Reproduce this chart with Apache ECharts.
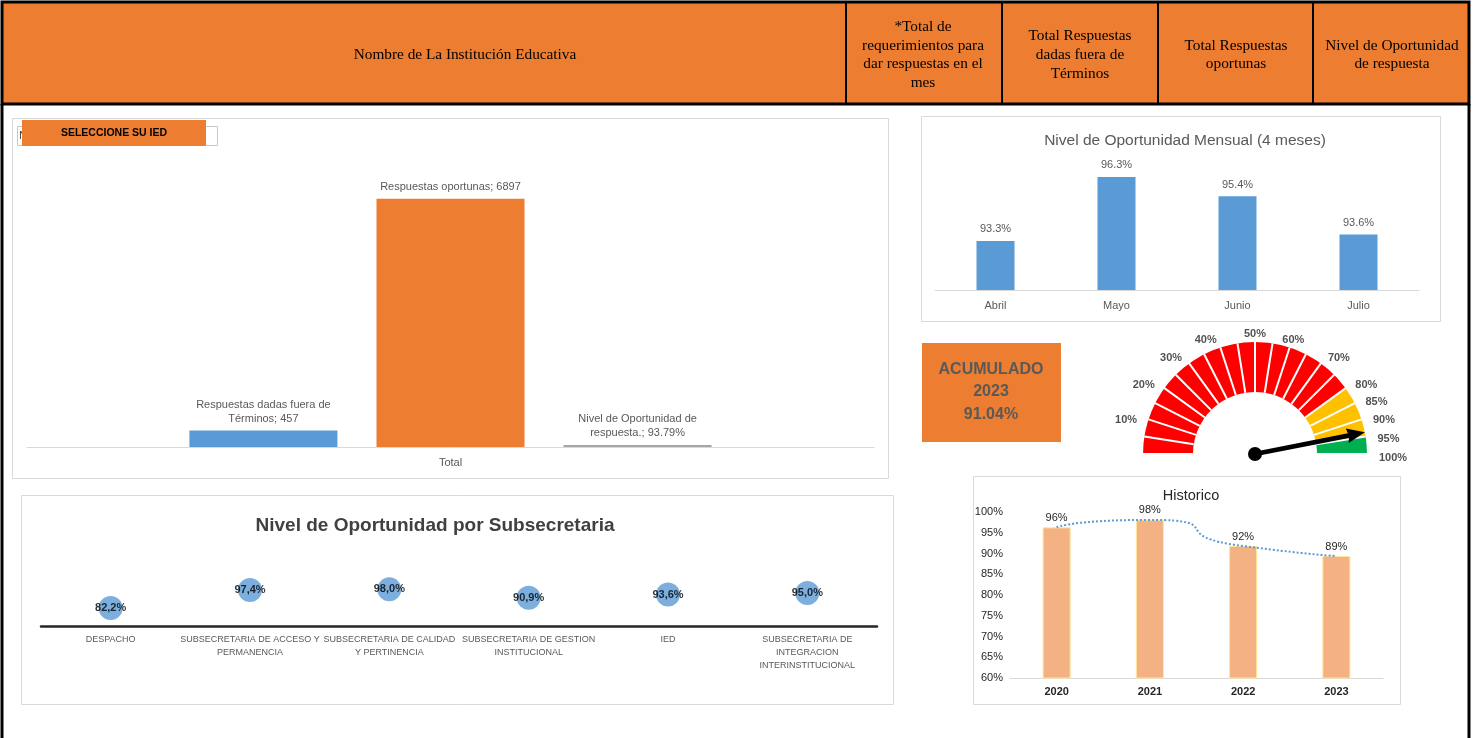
<!DOCTYPE html>
<html>
<head>
<meta charset="utf-8">
<script src="https://cdn.jsdelivr.net/npm/echarts@6/dist/echarts.min.js"></script>
<style>
html, body { margin: 0; padding: 0; background: #fff; }
#tablero { width: 1479px; height: 738px; }
</style>
</head>
<body>
<div id="tablero"></div>
<script>
// resumen total
const resumenSeries = ['Respuestas dadas fuera de Términos', 'Respuestas oportunas', 'Nivel de Oportunidad de respuesta.'];
const resumenEtiquetas = ['Respuestas dadas fuera de\nTérminos', 'Respuestas oportunas', 'Nivel de Oportunidad de\nrespuesta.'];
const resumenValores = [457, 6897, 0.9379];

// mensual (4 meses)
const meses = ['Abril', 'Mayo', 'Junio', 'Julio'];
const nivelMensual = [93.3, 96.3, 95.4, 93.6];

// por subsecretaria
const subsecretarias = [
    'DESPACHO',
    'SUBSECRETARIA DE ACCESO Y\nPERMANENCIA',
    'SUBSECRETARIA DE CALIDAD\nY PERTINENCIA',
    'SUBSECRETARIA DE GESTION\nINSTITUCIONAL',
    'IED',
    'SUBSECRETARIA DE\nINTEGRACION\nINTERINSTITUCIONAL'
];
const nivelSubsecretaria = [82.2, 97.4, 98.0, 90.9, 93.6, 95.0];

// historico
const anios = ['2020', '2021', '2022', '2023'];
const historico = [96.3, 98.1, 91.8, 89.4];

// velocimetro
const acumulado = { anio: '2023', valor: '91.04%' };
const nivelGlobal = 93.79;
const marcasGauge = [10, 20, 30, 40, 50, 60, 70, 80, 85, 90, 95, 100];
const cortesGauge = [0.8, 0.95, 1];

const encabezados = [
    'Nombre de La Institución Educativa',
    '*Total de\nrequerimientos para\ndar respuestas en el\nmes',
    'Total Respuestas\ndadas fuera de\nTérminos',
    'Total Respuestas\noportunas',
    'Nivel de Oportunidad\nde respuesta'
];

const gris = '#595959';
const naranja = '#ED7D31';
const azul = '#5B9BD5';

function caja(x, y, w, h, fill, stroke, lw, z) {
    return { type: 'rect', silent: true, z: z || 0, shape: { x: x, y: y, width: w, height: h },
        style: { fill: fill, stroke: stroke, lineWidth: lw || 1 } };
}
function texto(x, y, t, font, fill, z, lh, align) {
    return { type: 'text', silent: true, z: z || 1, x: x, y: y,
        style: { text: t, font: font, fill: fill, lineHeight: lh,
            textAlign: align || 'center', align: align || 'center',
            textVerticalAlign: 'middle', verticalAlign: 'middle' } };
}
function linea(x1, y1, x2, y2, w) {
    return { type: 'line', silent: true, z: 3, shape: { x1: x1, y1: y1, x2: x2, y2: y2 },
        style: { stroke: '#000', lineWidth: w } };
}

const serif = '15.3px "Liberation Serif"';
const graficos = [
    // encabezado
    caja(2, 2, 1467, 102, naranja, '#000', 3, 2),
    linea(846, 2, 846, 104, 2),
    linea(1002, 2, 1002, 104, 2),
    linea(1158, 2, 1158, 104, 2),
    linea(1313, 2, 1313, 104, 2),
    linea(2, 104, 2, 738, 3),
    linea(1469, 104, 1469, 738, 3),
    texto(465, 55, encabezados[0], serif, '#000', 4, 19),
    texto(923, 55, encabezados[1], serif, '#000', 4, 18.7),
    texto(1080, 55, encabezados[2], serif, '#000', 4, 18.7),
    texto(1236, 55, encabezados[3], serif, '#000', 4, 18.7),
    texto(1392, 55, encabezados[4], serif, '#000', 4, 18.7),
    // marcos de graficos
    caja(12.5, 118.5, 876, 360, '#fff', '#D9D9D9', 1, 0),
    caja(921.5, 116.5, 519, 205, '#fff', '#D9D9D9', 1, 0),
    caja(21.5, 495.5, 872, 209, '#fff', '#D9D9D9', 1, 0),
    caja(973.5, 476.5, 427, 228, '#fff', '#D9D9D9', 1, 0),
    // filtro
    caja(17.5, 126.5, 200, 19, '#fff', '#C8C8C8', 1, 1),
    texto(19, 136, 'Nombre de La Institución Educativa', '11.5px "Liberation Sans"', '#404040', 2, 12, 'left'),
    caja(22, 120, 184, 26, naranja, null, 0, 3),
    texto(114, 133, 'SELECCIONE SU IED', 'bold 10.5px "Liberation Sans"', '#000', 4, 12),
    // acumulado
    caja(922, 343, 139, 99, naranja, null, 0, 1),
    texto(991, 392, 'ACUMULADO\n' + acumulado.anio + '\n' + acumulado.valor, 'bold 16px "Liberation Sans"', gris, 2, 22.5)
];

const chart = echarts.init(document.getElementById('tablero'));

const option = {
    animation: false,
    textStyle: { fontFamily: 'Liberation Sans' },
    graphic: { elements: graficos },
    title: [
        { text: 'Nivel de Oportunidad Mensual (4 meses)', left: 1180, top: 128, textAlign: 'center',
            textStyle: { fontSize: 15.5, fontWeight: 'normal', color: gris } },
        { text: 'Nivel de Oportunidad por Subsecretaria', left: 430, top: 511, textAlign: 'center',
            textStyle: { fontSize: 19, fontWeight: 'bold', color: '#404040' } },
        { text: 'Historico', left: 1186, top: 483, textAlign: 'center',
            textStyle: { fontSize: 14.5, fontWeight: 'normal', color: '#262626' } }
    ],
    grid: [
        { left: 27, right: 605, top: 159, bottom: 291, outerBoundsMode: 'none' },
        { left: 935, right: 60, top: 162, bottom: 448, outerBoundsMode: 'none' },
        { left: 41, right: 602, top: 587, bottom: 112, outerBoundsMode: 'none' },
        { left: 1010, right: 96, top: 512, bottom: 60, outerBoundsMode: 'none' }
    ],
    xAxis: [
        { type: 'category', gridIndex: 0, data: ['Total'],
            axisLine: { lineStyle: { color: '#D9D9D9' } }, axisTick: { show: false },
            axisLabel: { color: gris, fontSize: 11, margin: 10 } },
        { type: 'category', gridIndex: 1, data: meses,
            axisLine: { lineStyle: { color: '#D9D9D9' } }, axisTick: { show: false },
            axisLabel: { color: gris, fontSize: 11, margin: 10 } },
        { type: 'category', gridIndex: 2, data: subsecretarias,
            axisLine: { lineStyle: { color: '#262626', width: 2.5 } }, axisTick: { show: false },
            axisLabel: { color: gris, fontSize: 9, lineHeight: 13, margin: 7, interval: 0 } },
        { type: 'category', gridIndex: 3, data: anios,
            axisLine: { lineStyle: { color: '#D9D9D9' } }, axisTick: { show: false },
            axisLabel: { color: '#262626', fontSize: 11, fontWeight: 'bold', margin: 8 } }
    ],
    yAxis: [
        { type: 'value', gridIndex: 0, min: 0, max: 8000, show: false },
        { type: 'value', gridIndex: 1, min: 91, max: 97, show: false },
        { type: 'value', gridIndex: 2, min: 67, max: 100, show: false },
        { type: 'value', gridIndex: 3, min: 60, max: 100, interval: 5,
            axisLine: { show: false }, axisTick: { show: false }, splitLine: { show: false },
            axisLabel: { color: '#262626', fontSize: 11, margin: 7, formatter: '{value}%' } }
    ],
    polar: { center: [1255, 458], radius: 150 },
    angleAxis: { type: 'value', min: 0, max: 200, startAngle: 180, clockwise: true,
        axisLine: { show: false }, axisTick: { show: false }, axisLabel: { show: false }, splitLine: { show: false } },
    radiusAxis: { type: 'value', min: 0, max: 150,
        axisLine: { show: false }, axisTick: { show: false }, axisLabel: { show: false }, splitLine: { show: false } },
    series: [
        ...resumenSeries.map((nombre, i) => ({
            name: nombre, type: 'bar', xAxisIndex: 0, yAxisIndex: 0,
            data: [resumenValores[i]], barWidth: 148, barGap: '26.4%', barMinHeight: i === 2 ? 2 : 0,
            itemStyle: { color: [azul, naranja, '#A5A5A5'][i] },
            label: { show: true, position: 'top', distance: 5, color: gris, fontSize: 11, lineHeight: 14,
                formatter: (p) => resumenEtiquetas[i] + '; ' + (i === 2 ? (p.value * 100).toFixed(2) + '%' : p.value) }
        })),
        { name: 'Mensual', type: 'bar', xAxisIndex: 1, yAxisIndex: 1, data: nivelMensual, barWidth: 38,
            itemStyle: { color: azul },
            label: { show: true, position: 'top', distance: 6, color: gris, fontSize: 11,
                formatter: (p) => p.value.toFixed(1) + '%' } },
        { name: 'Subsecretaria', type: 'scatter', xAxisIndex: 2, yAxisIndex: 2, data: nivelSubsecretaria,
            symbolSize: 24, itemStyle: { color: azul },
            label: { show: true, position: 'inside', color: '#000', fontSize: 11, fontWeight: 'bold',
                formatter: (p) => p.value.toFixed(1).replace('.', ',') + '%' } },
        { name: 'Historico', type: 'bar', xAxisIndex: 3, yAxisIndex: 3, data: historico, barWidth: 28,
            itemStyle: { color: '#F4B183', borderColor: '#FFE699', borderWidth: 1 },
            label: { show: true, position: 'top', distance: 4, color: '#262626', fontSize: 11,
                formatter: (p) => Math.round(p.value) + '%' } },
        { name: 'Tendencia', type: 'line', xAxisIndex: 3, yAxisIndex: 3, data: historico, smooth: 0.85,
            symbol: 'none', z: 5, lineStyle: { color: azul, width: 2, type: 'dotted' } },
        { name: 'Nivel', type: 'gauge', center: [1255, 454], radius: 112,
            startAngle: 180, endAngle: 0, min: 0, max: 100, splitNumber: 20,
            axisLine: { lineStyle: { width: 50,
                color: cortesGauge.map((c, i) => [c, ['#FF0000', '#FFC000', '#00B050'][i]]) } },
            splitLine: { distance: -50, length: 50, lineStyle: { color: '#fff', width: 2 } },
            axisTick: { show: false }, axisLabel: { show: false },
            pointer: { icon: 'path://M5,0 L10,16 L6.6,15 L6.6,100 L3.4,100 L3.4,15 L0,16 Z',
                length: '100%', width: 15, offsetCenter: [0, 0], itemStyle: { color: '#000' } },
            anchor: { show: true, showAbove: true, size: 14, itemStyle: { color: '#000' } },
            title: { show: false }, detail: { show: false },
            data: [{ value: nivelGlobal }] },
        { name: 'Marcas', type: 'scatter', coordinateSystem: 'polar', polarIndex: 0,
            data: marcasGauge.map((m) => ({
                value: [124, m],
                label: { align: m < 50 ? 'right' : (m > 60 ? 'left' : 'center') }
            })),
            symbolSize: 1, itemStyle: { color: 'rgba(0,0,0,0)' },
            label: { show: true, position: 'inside', color: '#262626', fontSize: 11, fontWeight: 'bold',
                formatter: (p) => p.value[1] + '%' } }
    ]
};

chart.setOption(option);
window.addEventListener('resize', function () {
    chart.resize();
});
</script>
</body>
</html>
